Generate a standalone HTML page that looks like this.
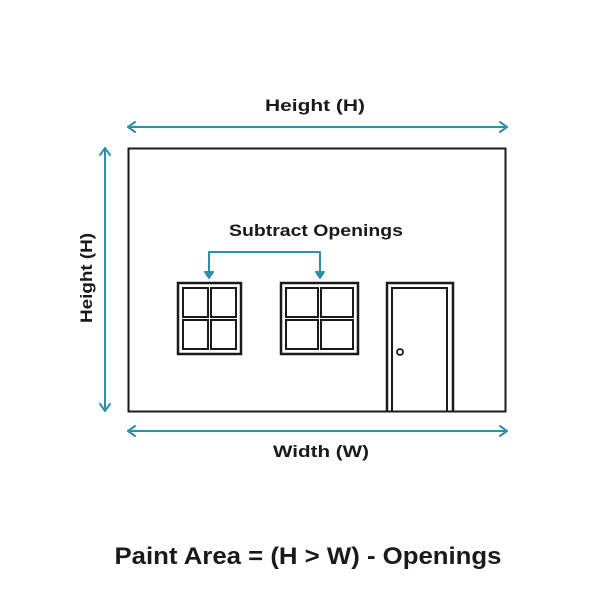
<!DOCTYPE html>
<html><head><meta charset="utf-8"><style>html,body{margin:0;padding:0;background:#fff}svg{display:block}</style></head>
<body>
<svg width="600" height="600" viewBox="0 0 600 600" xmlns="http://www.w3.org/2000/svg">
<rect width="600" height="600" fill="#fff"/>
<g font-family="Liberation Sans, sans-serif" font-weight="bold" fill="#1a1a1a" text-anchor="middle">
<text x="315" y="111" font-size="17" textLength="100" lengthAdjust="spacingAndGlyphs">Height (H)</text>
<text x="321" y="457" font-size="17" textLength="96" lengthAdjust="spacingAndGlyphs">Width (W)</text>
<text x="316" y="236" font-size="17" textLength="174" lengthAdjust="spacingAndGlyphs">Subtract Openings</text>
<text transform="translate(92,278) rotate(-90)" font-size="17" textLength="90" lengthAdjust="spacingAndGlyphs">Height (H)</text>
<text x="308" y="564" font-size="24" textLength="387" lengthAdjust="spacingAndGlyphs">Paint Area = (H &gt; W) - Openings</text>
</g>
<g stroke="#2e8fa8" stroke-width="2" fill="none" stroke-linecap="round" stroke-linejoin="round">
<line x1="128" y1="127" x2="507" y2="127"/><polyline points="135,122 128,127 135,132"/><polyline points="500,122 507,127 500,132"/>
<line x1="128" y1="431" x2="507" y2="431"/><polyline points="135,426 128,431 135,436"/><polyline points="500,426 507,431 500,436"/>
<line x1="105" y1="148" x2="105" y2="411"/><polyline points="100,155 105,148 110,155"/><polyline points="100,404 105,411 110,404"/>
<polyline points="209,277 209,252 320,252 320,277"/>
<polygon points="205,272 213,272 209,278" fill="#2e8fa8"/><polygon points="316,272 324,272 320,278" fill="#2e8fa8"/>
</g>
<g stroke="#1a1a1a" fill="none" stroke-width="2">
<rect x="128.5" y="148.5" width="377" height="263"/>
<rect x="178" y="283" width="63" height="71" stroke-width="2.5"/>
<rect x="183" y="288" width="25" height="29"/><rect x="211" y="288" width="25" height="29"/>
<rect x="183" y="320" width="25" height="29"/><rect x="211" y="320" width="25" height="29"/>
<rect x="281" y="283" width="77" height="71" stroke-width="2.5"/>
<rect x="286" y="288" width="32" height="29"/><rect x="321" y="288" width="32" height="29"/>
<rect x="286" y="320" width="32" height="29"/><rect x="321" y="320" width="32" height="29"/>
<polyline points="387,412 387,283 453,283 453,412" stroke-width="2.5"/>
<polyline points="392,412 392,288 447,288 447,412"/>
<circle cx="400" cy="352" r="3" stroke-width="1.8"/>
</g>
</svg>
</body></html>
